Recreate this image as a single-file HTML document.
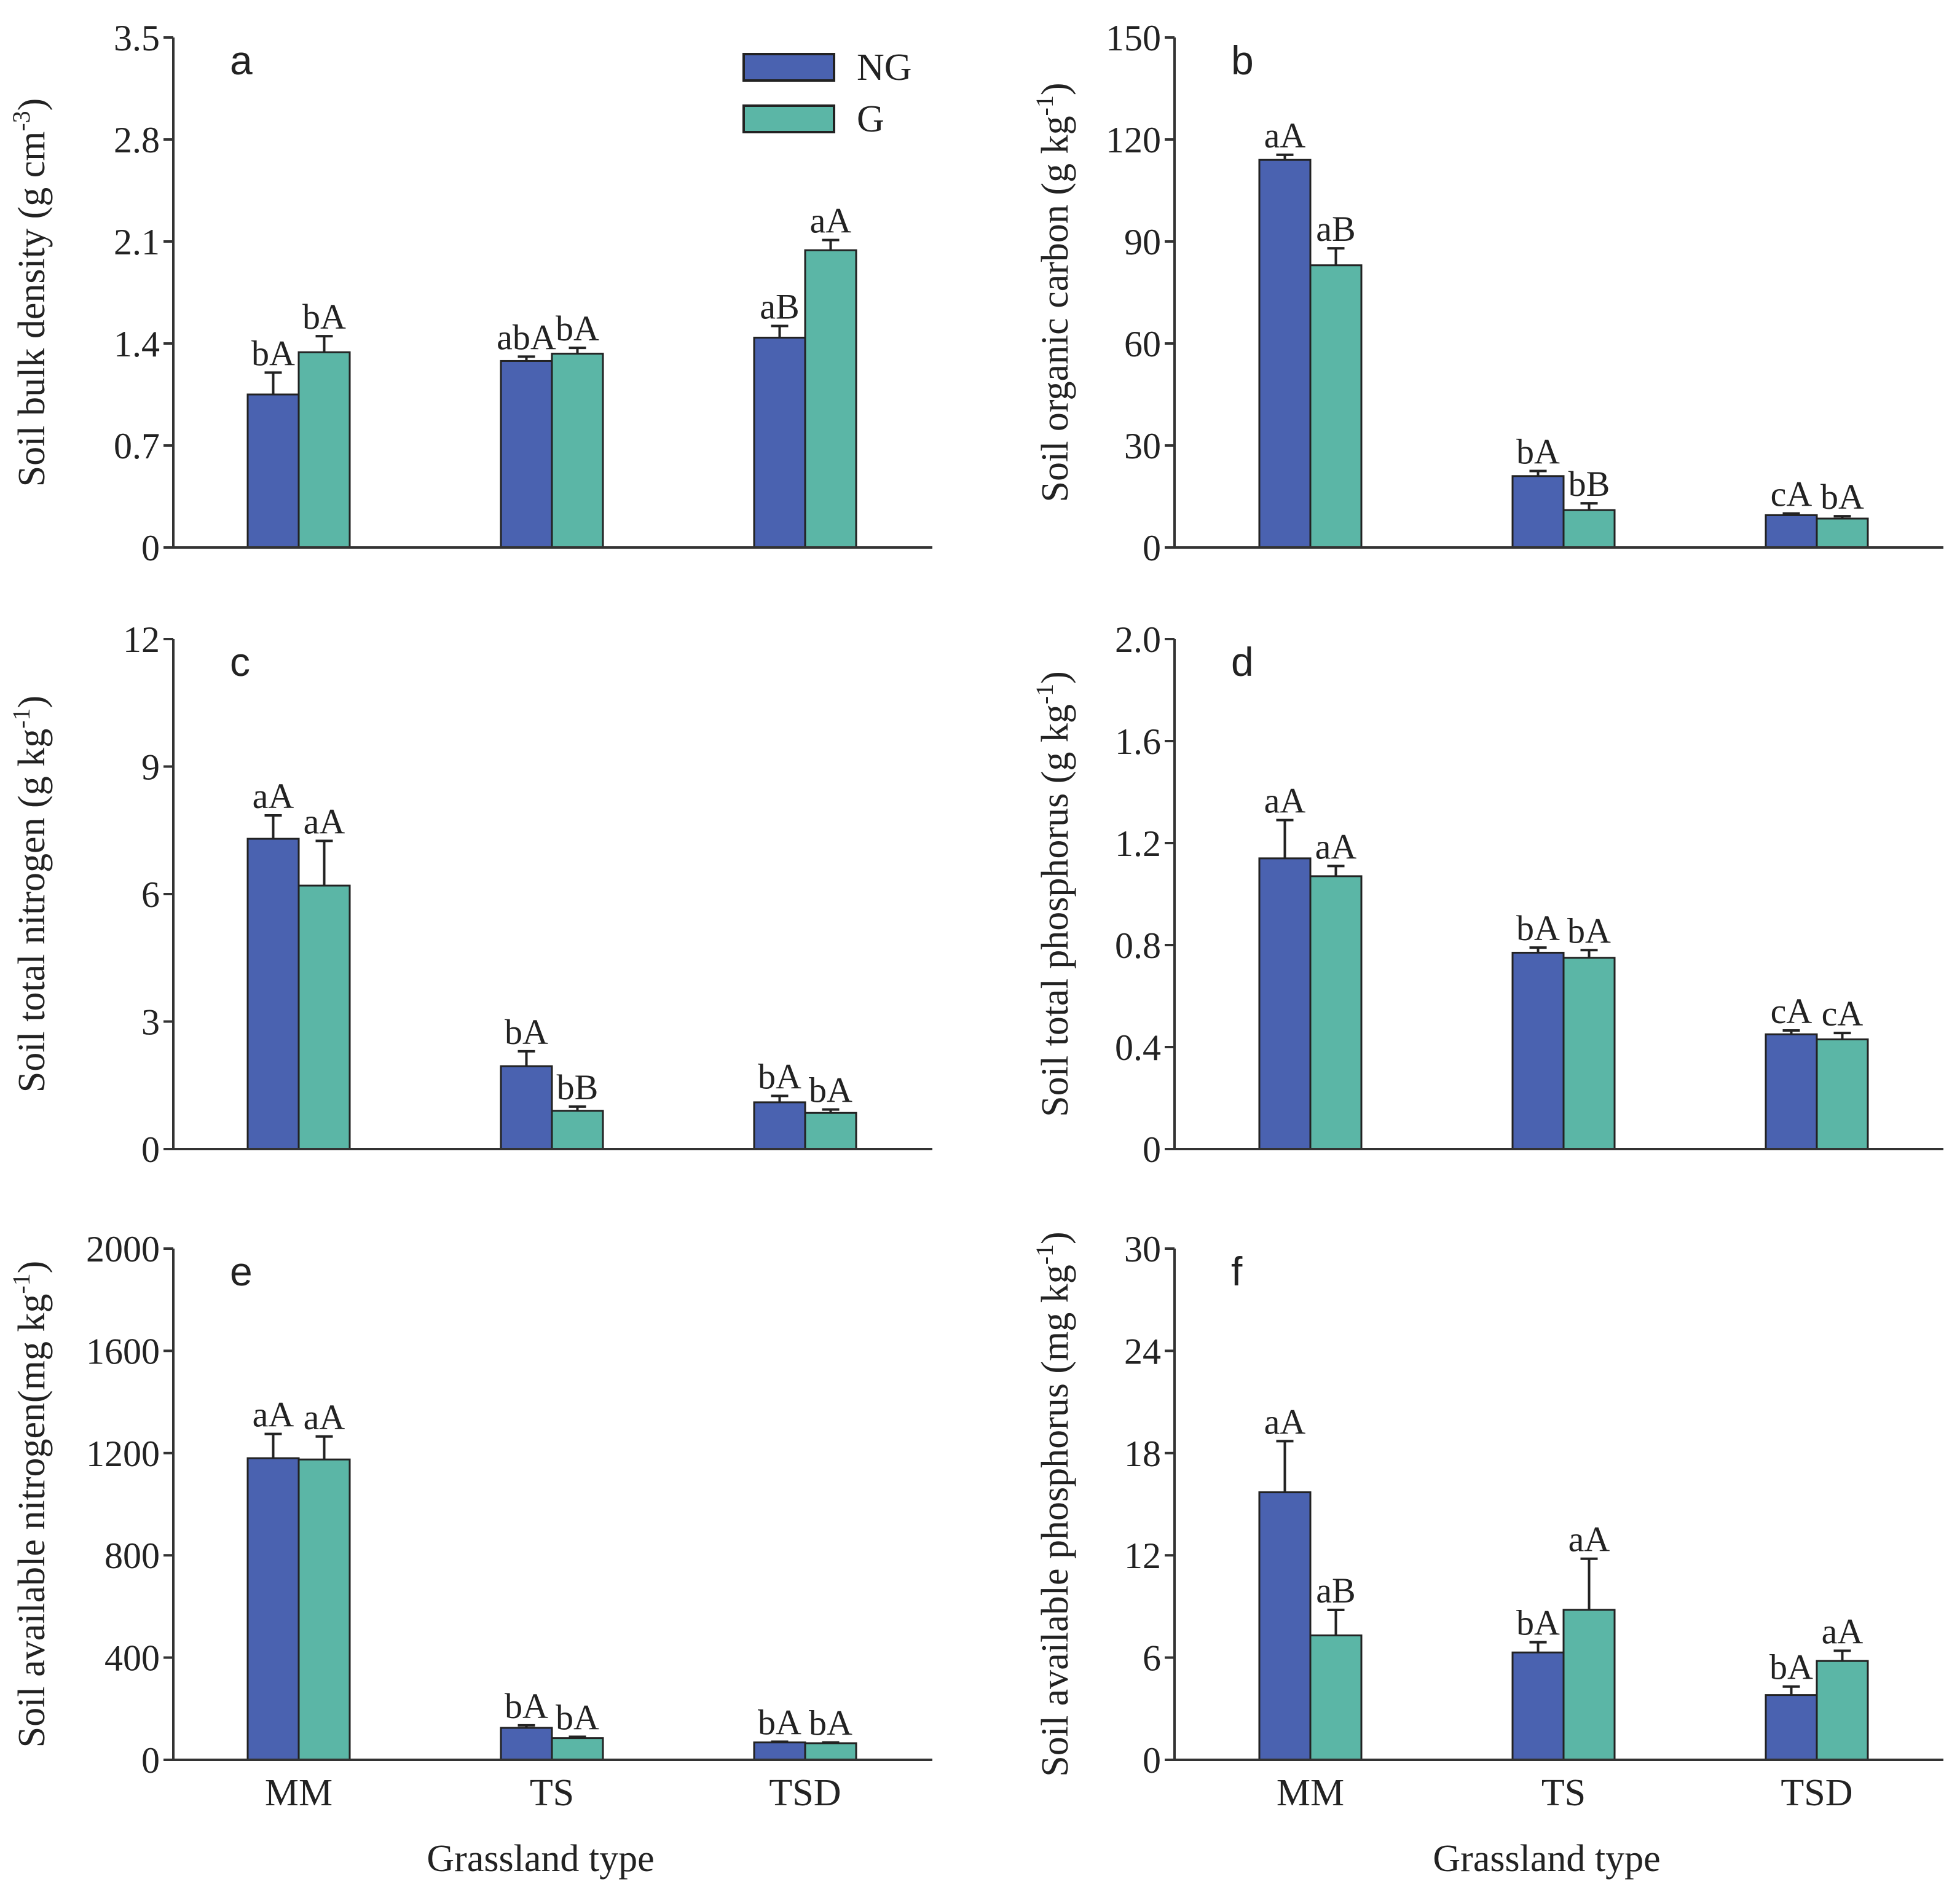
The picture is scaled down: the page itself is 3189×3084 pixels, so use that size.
<!DOCTYPE html>
<html><head><meta charset="utf-8"><style>
html,body{margin:0;padding:0;background:#fff}
svg{display:block}
text{font-family:"Liberation Serif",serif;fill:#222}
</style></head><body>
<svg id="fig" width="3189" height="3084" viewBox="0 0 3189 3084" xmlns="http://www.w3.org/2000/svg"></svg>
<script>
const categories = ["MM","TS","TSD"];
const ngA=[1.05,1.28,1.44], ngAErr=[0.15,0.03,0.08], gA=[1.34,1.33,2.04], gAErr=[0.11,0.04,0.07];
const ngB=[114,21,9.5], ngBErr=[1.5,1.5,0.5], gB=[83,11,8.5], gBErr=[5,2,0.7];
const ngC=[7.3,1.95,1.1], ngCErr=[0.55,0.35,0.15], gC=[6.2,0.9,0.85], gCErr=[1.05,0.1,0.08];
const ngD=[1.14,0.77,0.45], ngDErr=[0.15,0.02,0.015], gD=[1.07,0.75,0.43], gDErr=[0.04,0.03,0.025];
const ngE=[1180,125,68], ngEErr=[95,10,3], gE=[1175,85,65], gEErr=[90,5,3];
const ngF=[15.7,6.3,3.8], ngFErr=[3.0,0.6,0.5], gF=[7.3,8.8,5.8], gFErr=[1.5,3.0,0.6];
const ticksA=["0","0.7","1.4","2.1","2.8","3.5"];
const ticksB=["0","30","60","90","120","150"];
const ticksC=["0","3","6","9","12"];
const ticksD=["0","0.4","0.8","1.2","1.6","2.0"];
const ticksE=["0","400","800","1200","1600","2000"];
const ticksF=["0","6","12","18","24","30"];
const lblNgA=["bA","abA","aB"], lblGA=["bA","bA","aA"];
const lblNgB=["aA","bA","cA"], lblGB=["aB","bB","bA"];
const lblNgC=["aA","bA","bA"], lblGC=["aA","bB","bA"];
const lblNgD=["aA","bA","cA"], lblGD=["aA","bA","cA"];
const lblNgE=["aA","bA","bA"], lblGE=["aA","bA","bA"];
const lblNgF=["aA","bA","bA"], lblGF=["aB","aA","aA"];

const NS="http://www.w3.org/2000/svg";
const svg=document.getElementById('fig');
function mk(tag,attrs,parent){const e=document.createElementNS(NS,tag);for(const k in attrs)e.setAttribute(k,attrs[k]);(parent||svg).appendChild(e);return e;}

const panels=[
 {id:"a",x0:282,x1:1517,gx0:486,gdx:412,y0:891,y1:61,ticks:ticksA,ng:ngA,ne:ngAErr,g:gA,ge:gAErr,ln:lblNgA,lg:lblGA,t1:"Soil bulk density (g cm",sup:"-3",t2:")",tx:72,xl:false},
 {id:"b",x0:1911,x1:3162,gx0:2132,gdx:412,y0:891,y1:61,ticks:ticksB,ng:ngB,ne:ngBErr,g:gB,ge:gBErr,ln:lblNgB,lg:lblGB,t1:"Soil organic carbon (g kg",sup:"-1",t2:")",tx:1737,xl:false},
 {id:"c",x0:282,x1:1517,gx0:486,gdx:412,y0:1870,y1:1040,ticks:ticksC,ng:ngC,ne:ngCErr,g:gC,ge:gCErr,ln:lblNgC,lg:lblGC,t1:"Soil total nitrogen (g kg",sup:"-1",t2:")",tx:72,xl:false},
 {id:"d",x0:1911,x1:3162,gx0:2132,gdx:412,y0:1870,y1:1040,ticks:ticksD,ng:ngD,ne:ngDErr,g:gD,ge:gDErr,ln:lblNgD,lg:lblGD,t1:"Soil total phosphorus (g kg",sup:"-1",t2:")",tx:1737,xl:false},
 {id:"e",x0:282,x1:1517,gx0:486,gdx:412,y0:2864,y1:2032,ticks:ticksE,ng:ngE,ne:ngEErr,g:gE,ge:gEErr,ln:lblNgE,lg:lblGE,t1:"Soil available nitrogen(mg kg",sup:"-1",t2:")",tx:72,xl:true},
 {id:"f",x0:1911,x1:3162,gx0:2132,gdx:412,y0:2864,y1:2032,ticks:ticksF,ng:ngF,ne:ngFErr,g:gF,ge:gFErr,ln:lblNgF,lg:lblGF,t1:"Soil available phosphorus (mg kg",sup:"-1",t2:")",tx:1737,xl:true}
];
const NGC="#4a62b0", GC="#5bb6a6";
panels.forEach(p=>{
  const g=mk('g',{});
  
  
  const ymax=parseFloat(p.ticks[p.ticks.length-1]);
  const ys=v=>p.y0-(v/ymax)*(p.y0-p.y1);
  const xc=i=>p.gx0+p.gdx*i;
  const bw=83;
  p.ticks.forEach(t=>{
    const y=ys(parseFloat(t));
    mk('line',{x1:p.x0-16,x2:p.x0,y1:y,y2:y,stroke:"#333","stroke-width":4},g);
    const tl=mk('text',{x:p.x0-22,y:y+21,"text-anchor":"end","font-size":60},g);
    tl.textContent=t;
    
    
  });
  categories.forEach((c,i)=>{
    [[p.ng,p.ne,NGC,-1,p.ln,"ng"],[p.g,p.ge,GC,0,p.lg,"g"]].forEach(([vals,errs,col,off,lbls,nm])=>{
      const x=xc(i)+off*bw;
      const yt=ys(vals[i]), ye=ys(vals[i]+errs[i]);
      const cx=x+bw/2;
      mk('line',{x1:cx,x2:cx,y1:yt,y2:ye,stroke:"#222","stroke-width":4},g);
      mk('line',{x1:cx-14,x2:cx+14,y1:ye,y2:ye,stroke:"#222","stroke-width":4},g);
      const r=mk('rect',{x:x,y:yt,width:bw,height:p.y0-yt,fill:col,stroke:"#222","stroke-width":3},g);
      
      
      const lt=mk('text',{x:cx,y:ye-12,"text-anchor":"middle","font-size":58},g);
      lt.textContent=lbls[i];
      
      
    });
    if(p.xl){
      const xt=mk('text',{x:xc(i),y:2938,"text-anchor":"middle","font-size":62},g);
      xt.textContent=c;
      
      
    }
  });
  mk('line',{x1:p.x0,x2:p.x0,y1:p.y1,y2:p.y0+2,stroke:"#333","stroke-width":4},g);
  mk('line',{x1:p.x0-2,x2:p.x1,y1:p.y0,y2:p.y0,stroke:"#333","stroke-width":4},g);
  const pl=mk('text',{x:p.x0+92,y:p.y1+60,"font-size":66,style:"font-family:'Liberation Sans',sans-serif"},g);
  pl.textContent=p.id;
  
  
  const cy=(p.y0+p.y1)/2;
  const yt=mk('text',{x:0,y:0,"text-anchor":"middle","font-size":62,transform:`translate(${p.tx},${cy}) rotate(-90)`},g);
  
  
  const s1=mk('tspan',{},yt); s1.textContent=p.t1;
  const s2=mk('tspan',{"font-size":40,dy:-24},yt); s2.textContent=p.sup;
  const s3=mk('tspan',{dy:24},yt); s3.textContent=p.t2;
  if(p.xl){
    const xt=mk('text',{x:(p.x0+p.x1)/2-20,y:3045,"text-anchor":"middle","font-size":62},g);
    xt.textContent="Grassland type";
    
    
  }
});
const lg=mk('g',{});


[["NG",NGC,88],["G",GC,172]].forEach(([n,c,y])=>{
  const r=mk('rect',{x:1210,y:y,width:147,height:43,fill:c,stroke:"#222","stroke-width":4},lg);
  
  
  const t=mk('text',{x:1394,y:y+42,"font-size":62},lg);
  t.textContent=n;
  
  
});
</script>
</body></html>
